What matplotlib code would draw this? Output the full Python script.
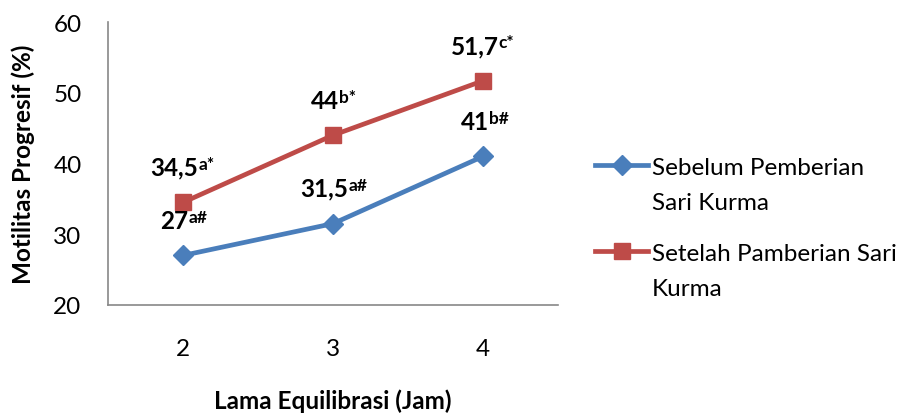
import matplotlib.pyplot as plt
from matplotlib.text import Annotation

plt.rcParams['font.family'] = ['Lato', 'DejaVu Sans']

jam = ['2', '3', '4']
sebelum = [27, 31.5, 41]
setelah = [34.5, 44, 51.7]
lbl_sebelum = ['27', '31,5', '41']
sup_sebelum = ['a#', 'a#', 'b#']
lbl_setelah = ['34,5', '44', '51,7']
sup_setelah = ['a*', 'b*', 'c*']
legend_first = ['Sebelum Pemberian', 'Setelah Pamberian Sari']
legend_second = ['Sari Kurma', 'Kurma']

blue = '#4A7EBB'
red = '#BE4B48'
fs = 17.5

fig = plt.figure(figsize=(9.07, 4.14), dpi=100)
ax = fig.add_axes([0.119, 0.261, 0.496, 0.683])

x = range(len(jam))
l1, = ax.plot(x, sebelum, color=blue, lw=3.4, marker='D', ms=10, mec=blue)
l2, = ax.plot(x, setelah, color=red, lw=3.4, marker='s', ms=11, mec=red)

def label(xi, yi, main, sup):
    t = ax.annotate(main, (xi, yi), xytext=(-6, 20), textcoords='offset points',
                    ha='center', va='baseline', fontsize=fs, fontweight='bold')
    ax.annotate(sup, (1, 0), xycoords=t, xytext=(0, 7), textcoords='offset points',
                ha='left', va='baseline', fontsize=12.5, fontweight='bold')

for i in x:
    label(i, sebelum[i], lbl_sebelum[i], sup_sebelum[i])
    label(i, setelah[i], lbl_setelah[i], sup_setelah[i])

ax.set_xlim(-0.5, 2.5)
ax.set_ylim(20, 60)
ax.set_yticks([20, 30, 40, 50, 60])
ax.set_xticks(list(x))
ax.set_xticklabels(jam)
ax.tick_params(axis='x', length=0, labelsize=fs, pad=24)
ax.tick_params(axis='y', length=0, labelsize=fs, pad=19)
for s in ['top', 'right']:
    ax.spines[s].set_visible(False)
for s in ['left', 'bottom']:
    ax.spines[s].set_color('#888888')
    ax.spines[s].set_linewidth(1.2)

ax.set_xlabel('Lama Equilibrasi (Jam)', fontsize=fs, fontweight='bold', labelpad=21)
ax.set_ylabel('Motilitas Progresif (%)', fontsize=fs, fontweight='bold', labelpad=13)

leg = fig.legend([l1, l2], legend_first, loc='upper left', bbox_to_anchor=(0.656, 0.619),
                 frameon=False, fontsize=fs, handlelength=2.2, handletextpad=0.15,
                 labelspacing=2.68, borderpad=0, borderaxespad=0)
for txt, second in zip(leg.get_texts(), legend_second):
    an = Annotation(second, (0, 0), xycoords=txt, xytext=(0, -22.5), textcoords='offset points',
                    ha='left', va='baseline', fontsize=fs)
    an.set_zorder(10)
    fig.add_artist(an)

fig.savefig('out.png', dpi=100)
